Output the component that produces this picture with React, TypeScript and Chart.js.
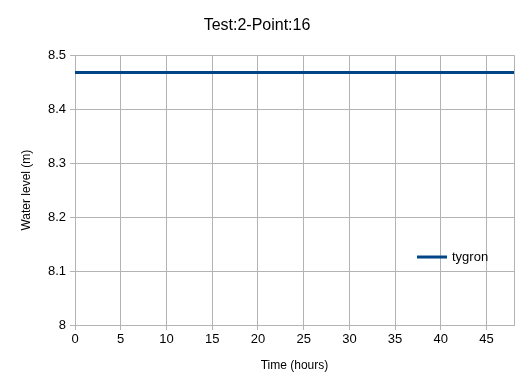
import React, { useEffect, useRef } from "react";
import { Chart, registerables } from "chart.js";

Chart.register(...registerables);

const chartTitle = "Test:2-Point:16";
const seriesLabel = "tygron";
const timeHours = [0, 6, 12, 18, 24, 30, 36, 42, 48];
const waterLevel = [8.468, 8.468, 8.468, 8.468, 8.468, 8.468, 8.468, 8.468, 8.468];
const xTitle = "Time (hours)";
const yTitle = "Water level (m)";

const FONT = "'Liberation Sans', Arial, sans-serif";
const GRID = "#b3b3b3";
const LINE = "#004586";

const framePlugin = {
  id: "frameAndLegend",
  afterDraw(chart: any) {
    const { ctx, chartArea } = chart;
    ctx.save();
    // right frame line
    ctx.strokeStyle = GRID;
    ctx.lineWidth = 1;
    ctx.beginPath();
    ctx.moveTo(Math.round(chartArea.right) + 0.5, chartArea.top);
    ctx.lineTo(Math.round(chartArea.right) + 0.5, chartArea.bottom);
    ctx.stroke();
    // legend inside chart area
    const ds = chart.data.datasets[0];
    const y = chartArea.top + (chartArea.bottom - chartArea.top) * 0.748;
    const x0 = chartArea.right - 97;
    ctx.strokeStyle = ds.borderColor;
    ctx.lineWidth = 3;
    ctx.beginPath();
    ctx.moveTo(x0, y);
    ctx.lineTo(x0 + 30, y);
    ctx.stroke();
    ctx.fillStyle = "#000";
    ctx.font = `13px ${FONT}`;
    ctx.textBaseline = "middle";
    ctx.textAlign = "left";
    ctx.fillText(ds.label, x0 + 35, y);
    ctx.restore();
  },
};

export default function App() {
  const ref = useRef<HTMLCanvasElement>(null);
  useEffect(() => {
    document.body.style.margin = "0";
    const chart = new Chart(ref.current!, {
      type: "line",
      data: {
        datasets: [
          {
            label: seriesLabel,
            data: timeHours.map((t, i) => ({ x: t, y: waterLevel[i] })),
            borderColor: LINE,
            backgroundColor: LINE,
            borderWidth: 3,
            pointRadius: 0,
            tension: 0,
          },
        ],
      },
      options: {
        animation: false,
        responsive: false,
        layout: { padding: { left: 0, right: 8, top: 0, bottom: 0 } },
        plugins: {
          legend: { display: false },
          tooltip: { enabled: false },
          title: {
            display: true,
            text: chartTitle,
            color: "#000",
            font: { family: FONT, size: 16, weight: "normal" },
            padding: { top: 16, bottom: 20 },
          },
        },
        scales: {
          x: {
            type: "linear",
            min: 0,
            max: 48,
            afterBuildTicks: (s: any) => {
              s.ticks = s.ticks.filter((t: any) => t.value % 5 === 0);
            },
            afterFit: (s: any) => {
              s.height = 59;
            },
            ticks: {
              stepSize: 5,
              color: "#000",
              font: { family: FONT, size: 13 },
              padding: 2,
              maxRotation: 0,
            },
            grid: { color: GRID, tickLength: 5, tickColor: GRID },
            border: { color: GRID },
            title: {
              display: true,
              text: xTitle,
              color: "#000",
              font: { family: FONT, size: 12 },
              padding: { top: 0, bottom: 11 },
            },
          },
          y: {
            min: 8,
            max: 8.5,
            afterFit: (s: any) => {
              s.width = 75;
            },
            ticks: {
              stepSize: 0.1,
              color: "#000",
              font: { family: FONT, size: 13 },
              padding: 4,
              callback: (v: any) => (Math.round(Number(v) * 10) / 10).toString(),
            },
            grid: { color: GRID, tickLength: 5, tickColor: GRID },
            border: { color: GRID },
            title: {
              display: true,
              text: yTitle,
              color: "#000",
              font: { family: FONT, size: 12 },
              padding: { top: 19, bottom: 0 },
            },
          },
        },
      },
      plugins: [framePlugin],
    } as any);
    return () => chart.destroy();
  }, []);
  return <canvas ref={ref} width={522} height={384} style={{ display: "block" }} />;
}
